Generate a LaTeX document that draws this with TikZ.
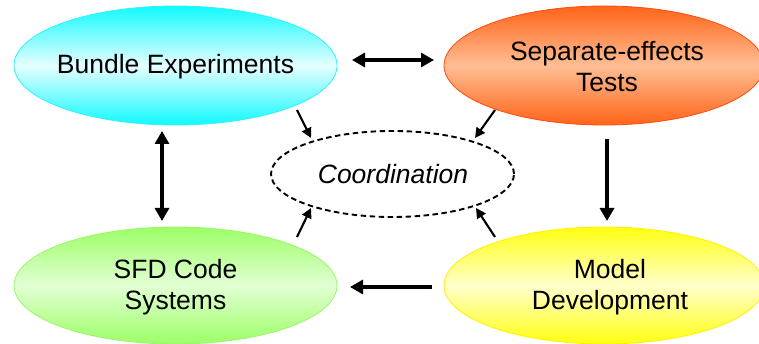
\documentclass[tikz,border=0pt]{standalone}
\usepackage{fontspec}
\setmainfont{Liberation Sans}
\usetikzlibrary{shapes.geometric,arrows.meta}
\definecolor{cyanedge}{HTML}{33F0FF}
\definecolor{cyantop}{HTML}{10FAFF}
\definecolor{cyanmid}{HTML}{E6FEFF}
\definecolor{orangeedge}{HTML}{FF4A10}
\definecolor{orangetop}{HTML}{FF6418}
\definecolor{orangemid}{HTML}{FFBE94}
\definecolor{greenedge}{HTML}{9CF56E}
\definecolor{greentop}{HTML}{9CFF66}
\definecolor{greenmid}{HTML}{E2FFD4}
\definecolor{yellowedge}{HTML}{FFF000}
\definecolor{yellowtop}{HTML}{FFFF10}
\definecolor{yellowmid}{HTML}{FFFFCC}
\tikzset{
  bubble/.style={ellipse, inner sep=0pt, line width=0.8pt, align=center},
  bigarrow/.style={line width=3.2pt, -{Triangle[length=13pt,width=14pt]}},
  bigdouble/.style={line width=3.2pt, {Triangle[length=13pt,width=14pt]}-{Triangle[length=13pt,width=14pt]}},
  smallarrow/.style={line width=2.1pt, -{Triangle[length=10pt,width=10pt]}},
  txt/.style={align=center, inner sep=0pt, font=\fontsize{26.5}{31}\selectfont}
}
\begin{document}
\begin{tikzpicture}[x=1pt,y=-1pt]
\useasboundingbox (0,0) rectangle (759,344);
\clip (0,0) rectangle (759,344);
% ellipses
\node[bubble, draw=cyanedge, top color=cyantop, bottom color=cyantop, middle color=cyanmid,
  minimum width=323pt, minimum height=119pt] (be) at (175.5,65.5) {};
\node[bubble, draw=orangeedge, top color=orangetop, bottom color=orangetop, middle color=orangemid,
  minimum width=320pt, minimum height=119pt] (se) at (604,65.5) {};
\node[bubble, draw=greenedge, top color=greentop, bottom color=greentop, middle color=greenmid,
  minimum width=323pt, minimum height=117pt] (sfd) at (175.5,285.5) {};
\node[bubble, draw=yellowedge, top color=yellowtop, bottom color=yellowtop, middle color=yellowmid,
  minimum width=320pt, minimum height=117pt] (md) at (604,285.5) {};
\node[ellipse, draw, line width=1.9pt, dash pattern=on 5.5pt off 3.5pt, inner sep=0pt,
  minimum width=243pt, minimum height=86pt] (co) at (392.5,174) {};
% texts
\node[txt] (tbe) at (175.5,66.5) {Bundle Experiments};
\node[txt] (tse) at (607,66.5) {Separate-effects\\Tests};
\node[txt] (tsfd) at (175.5,287) {SFD Code\\Systems};
\node[txt] (tmd) at (610,287) {Model\\Development};
\node[txt, font=\fontsize{26.5}{31}\selectfont\itshape] (tco) at (393,174) {Coordination};
% big arrow end points
\coordinate (h1) at (352,60);
\coordinate (h2) at (434,60);
\coordinate (v1) at (162,131);
\coordinate (v2) at (162,221);
\coordinate (d1) at (607,139);
\coordinate (d2) at (607,221);
\coordinate (l1) at (432,287);
\coordinate (l2) at (350,287);
\draw[bigdouble] (h1) -- (h2);
\draw[bigdouble] (v1) -- (v2);
\draw[bigarrow] (d1) -- (d2);
\draw[bigarrow] (l1) -- (l2);
% small arrows to coordination
\coordinate (s1) at (297,110);
\coordinate (e1) at (311,138);
\coordinate (s2) at (495,110);
\coordinate (e2) at (475,138);
\coordinate (s3) at (297,237);
\coordinate (e3) at (311,208);
\coordinate (s4) at (495,237);
\coordinate (e4) at (476,208);
\draw[smallarrow] (s1) -- (e1);
\draw[smallarrow] (s2) -- (e2);
\draw[smallarrow] (s3) -- (e3);
\draw[smallarrow] (s4) -- (e4);
\end{tikzpicture}
\end{document}
